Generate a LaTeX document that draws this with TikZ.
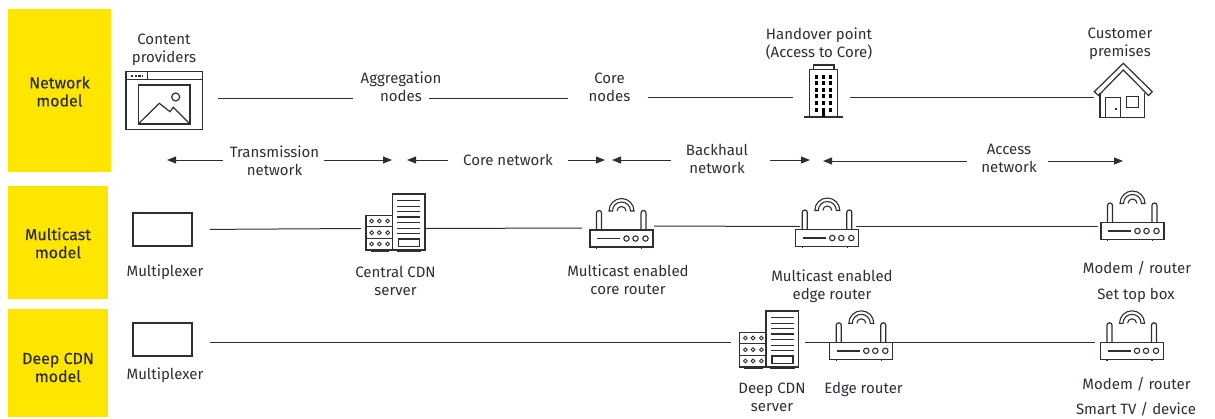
\documentclass[tikz,border=0pt]{standalone}
\usepackage{fontspec}
\setmainfont{Fira Sans}
\usetikzlibrary{arrows.meta}
\definecolor{eyyellow}{HTML}{FFE600}
\definecolor{eyink}{HTML}{2E2E38}
\tikzset{
	x=1pt,y=-1pt,
	txt/.style={text=eyink,font=\fontsize{15}{18}\selectfont,align=center,inner sep=0pt},
	modeltxt/.style={text=eyink,font=\fontsize{16}{18}\selectfont\addfontfeature{FakeBold=0.2},align=center,inner sep=0pt},
	iconspot/.style={inner sep=0pt,outer sep=0pt,minimum height=1pt},
	muxbox/.style={draw=eyink,line width=1.2pt,fill=white,minimum width=59pt,minimum height=33pt,inner sep=0pt},
	link/.style={draw=eyink,line width=1pt},
	span/.style={draw=eyink,line width=1pt,-{Triangle[length=9pt,width=7pt]}},
	routericon/.pic={
		\draw[eyink,line width=1.2pt] (-31.5,-8.5) rectangle (31.5,8.5);
		\draw[eyink,line width=1.2pt,rounded corners=2.4pt] (-25,-8.5) -- (-25,-28) -- (-20,-28) -- (-20,-8.5);
		\draw[eyink,line width=1.2pt,rounded corners=2.4pt] (19.5,-8.5) -- (19.5,-28) -- (24.5,-28) -- (24.5,-8.5);
		\draw[eyink,line width=1.1pt] (-12.5,-27.5) arc[start angle=180,end angle=360,radius=12.5] -- (9,-27.5) arc[start angle=360,end angle=180,radius=9] -- cycle;
		\draw[eyink,line width=1.1pt] (-4.5,-27.5) arc[start angle=180,end angle=360,radius=4.5];
		\draw[eyink,line width=1.4pt] (-24.5,0) -- (-1.5,0);
		\foreach \px in {5,14,24} \draw[eyink,line width=1.1pt] (\px,0) circle (2.7pt);
		\draw[eyink,line width=1.2pt] (-25,8.5) -- (-25,10);
		\draw[eyink,line width=1.2pt] (20,8.5) -- (20,10);
	},
	servericon/.pic={
		\draw[eyink,line width=1.2pt] (-3.2,-28) rectangle (29.5,28);
		\draw[eyink,line width=1.2pt] (-29.5,-6.3) rectangle (-3.2,28);
		\draw[eyink,line width=1.2pt] (-29.5,4.7) -- (-3.2,4.7);
		\draw[eyink,line width=1.2pt] (-29.5,16.3) -- (-3.2,16.3);
		\foreach \py in {-1,10.7,22} \foreach \px in {-23.8,-16.2,-7.8}
			\draw[eyink,line width=.9pt] (\px,\py) circle (1.9pt);
		\foreach \py in {-21.3,-15.3,-10.3,-5,.7,6.3,11.3}
			\draw[eyink,line width=1.2pt] (1.8,\py) -- (24.5,\py);
		\draw[eyink,line width=1.2pt] (2.8,17) rectangle (23.8,24.7);
		\draw[eyink,line width=1.2pt] (-24.8,29.7) -- (-6.5,29.7);
		\draw[eyink,line width=1.2pt] (1.2,29.7) -- (25.5,29.7);
	}
}
\begin{document}
\begin{tikzpicture}
	\useasboundingbox (0,0) rectangle (1215,418);
	% model bands
	\fill[eyyellow] (8,9) rectangle (111,172);
	\fill[eyyellow] (8,186) rectangle (108,299);
	\fill[eyyellow] (8,309) rectangle (108,417);
	\node[modeltxt] (netband) at (59.5,91.5) {Network\\model};
	\node[modeltxt] (mcband) at (58,243) {Multicast\\model};
	\node[modeltxt] (cdnband) at (58,367.5) {Deep CDN\\model};

	% network row
	\draw[eyink,line width=1.2pt] (126,71.7) rectangle (202.3,129.3);
	\draw[eyink,line width=1.2pt] (126,79.3) -- (202.3,79.3);
	\draw[eyink,line width=1.2pt] (147.3,71.7) -- (147.3,79.3);
	\draw[eyink,line width=1.6pt,dash pattern=on 2.4pt off 1.2pt] (131,76) -- (142.3,76);
	\draw[eyink,line width=1.2pt] (138.3,85) rectangle (190,124);
	\draw[eyink,line width=1.2pt] (175.7,97) circle (4pt);
	\draw[eyink,line width=1.2pt] (138.3,124) -- (159.3,103.3) -- (170,111.7) -- (173.3,107.3) -- (190,124);
	\node[iconspot,minimum width=92pt] (browser) at (172,98.5) {};
	\node[txt] (contentlabel) at (164,49.5) {Content\\providers};
	\node[txt] (agglabel) at (401,86.5) {Aggregation\\nodes};
	\node[txt] (corelabel) at (609.5,87) {Core\\nodes};

	\fill[eyink] (804.3,116.4) rectangle (842.7,117.6);
	\draw[eyink,line width=1.2pt] (809.3,117) -- (809.3,69.3) -- (837.7,69.3) -- (837.7,117);
	\draw[eyink,line width=1.2pt] (813.3,69.3) -- (813.3,65) -- (834,65) -- (834,69.3);
	\foreach \wy in {75,81,87.5,94,101,108} \foreach \wx in {816,823.3,830.7}
		\fill[black] (\wx-1.5,\wy) rectangle (\wx+1.5,\wy+4);
	\fill[black] (821.8,112) rectangle (824.8,117);
	\node[iconspot,minimum width=57pt] (building) at (821.5,97) {};
	\node[txt] (handoverlabel) at (819,43.5) {Handover point\\(Access to Core)};

	\draw[eyink,line width=1.2pt] (1094.3,91.7) -- (1123.3,63.3) -- (1152.3,91.7) -- (1148.5,95.5) -- (1123.3,70) -- (1098.5,95.5) -- cycle;
	\draw[eyink,line width=1.2pt] (1100,93) -- (1100,117.7) -- (1144.3,117.7) -- (1144.3,93);
	\draw[eyink,line width=1.2pt] (1105.7,117.7) -- (1105.7,97.3) -- (1120.7,97.3) -- (1120.7,117.7);
	\fill[eyink] (1114.5,108) rectangle (1117,109.6);
	\draw[eyink,line width=1.2pt] (1126.7,96.7) rectangle (1138.3,107.3);
	\node[iconspot,minimum width=58pt] (house) at (1123,97) {};
	\node[txt] (customerlabel) at (1120,43.5) {Customer\\premises};

	\draw[link] (browser.east) -- ([xshift=-8pt]agglabel.west |- browser.east);
	\draw[link] ([xshift=-12pt]agglabel.east |- browser.east) -- ([xshift=-20pt]corelabel.west |- browser.east);
	\draw[link] ([xshift=17pt]corelabel.east |- building.west) -- (building.west);
	\draw[link] (building.east) -- (house.west);

	% network spans
	\node[txt] (translabel) at (274.5,160.5) {Transmission\\network};
	\node[txt] (corenetlabel) at (508,159.5) {Core network};
	\node[txt] (backlabel) at (717,158.5) {Backhaul\\network};
	\node[txt] (accesslabel) at (1009,158.5) {Access\\network};
	\coordinate (transL) at (167,160);
	\coordinate (transR) at (392,160);
	\coordinate (coreL) at (407,160);
	\coordinate (coreR) at (605,160);
	\coordinate (backL) at (612,160);
	\coordinate (backR) at (810,160);
	\coordinate (accessL) at (823,161);
	\coordinate (accessR) at (1123,161);
	\draw[span,shorten <=7pt] (translabel.west |- transL) -- (transL);
	\draw[span,shorten <=5pt] (translabel.east |- transR) -- (transR);
	\draw[span,shorten <=15pt] (corenetlabel.west |- coreL) -- (coreL);
	\draw[span,shorten <=15pt] (corenetlabel.east |- coreR) -- (coreR);
	\draw[span,shorten <=15pt] (backlabel.west |- backL) -- (backL);
	\draw[span,shorten <=22pt] (backlabel.east |- backR) -- (backR);
	\draw[span,shorten <=14pt] (accesslabel.west |- accessL) -- (accessL);
	\draw[span,shorten <=11pt] (accesslabel.east |- accessR) -- (accessR);

	% multicast row
	\node[muxbox] (muxtop) at (162.5,229.5) {};
	\node[txt] (muxtoplabel) at (165,272) {Multiplexer};
	\pic at (395.5,222) {servericon};
	\node[iconspot,minimum width=64pt] (central) at (393,228.5) {};
	\node[txt] (centrallabel) at (395.5,280.5) {Central CDN\\server};
	\pic at (621.5,238.5) {routericon};
	\node[iconspot,minimum width=72pt] (corerouter) at (618,226) {};
	\node[txt] (corerouterlabel) at (628,279.5) {Multicast enabled\\core router};
	\pic at (827.3,238) {routericon};
	\node[iconspot,minimum width=56pt] (edgerouter) at (828,226.5) {};
	\node[txt] (edgerouterlabel) at (832,286) {Multicast enabled\\edge router};
	\pic at (1132.5,231) {routericon};
	\node[iconspot,minimum width=10pt] (modemtop) at (1103,226.5) {};
	\node[txt] (modemtoplabel) at (1137,268) {Modem / router};
	\node[txt] (settoplabel) at (1136,295.5) {Set top box};
	\draw[link,shorten <=17pt] (muxtop.east) -- (central.west);
	\draw[link] (central.east) -- ([yshift=-2pt]corerouter.west);
	\draw[link] (corerouter.east) -- (edgerouter.west);
	\draw[link] (edgerouter.east) -- (modemtop.west);

	% deep cdn row
	\node[muxbox] (muxdeep) at (162.5,339.5) {};
	\node[txt] (muxdeeplabel) at (165,375) {Multiplexer};
	\pic at (769.2,339) {servericon};
	\node[iconspot,minimum width=74pt] (deepcdn) at (768,342) {};
	\node[txt] (deepcdnlabel) at (772,397.5) {Deep CDN\\server};
	\pic at (861.3,350.8) {routericon};
	\node[iconspot,minimum width=64pt] (edgedeep) at (860.5,342) {};
	\node[txt] (edgedeeplabel) at (863.5,389) {Edge router};
	\pic at (1132,350.8) {routericon};
	\node[iconspot,minimum width=10pt] (modemdeep) at (1100,342) {};
	\node[txt] (modemdeeplabel) at (1136.5,384.5) {Modem / router};
	\node[txt] (smarttvlabel) at (1136,409.5) {Smart TV / device};
	\draw[link,shorten <=17pt] ([yshift=-2.5pt]muxdeep.east) -- (deepcdn.west);
	\draw[link] (deepcdn.east) -- (edgedeep.west);
	\draw[link] (edgedeep.east) -- (modemdeep.west);
\end{tikzpicture}
\end{document}
